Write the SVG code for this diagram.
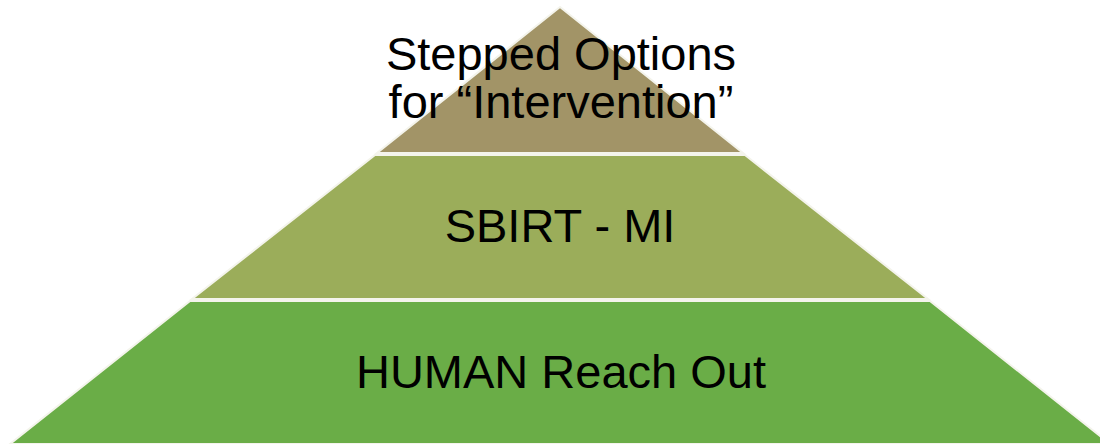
<svg xmlns="http://www.w3.org/2000/svg" width="1100" height="444" viewBox="0 0 1100 444">
  <style>
    .tier { stroke: #f4f4ec; stroke-width: 2; stroke-linejoin: miter; }
    .label { font-family: "Liberation Sans", Arial, sans-serif; font-size: 47px; fill: #000; text-anchor: middle; }
  </style>
  <rect width="1100" height="444" fill="#ffffff"/>
  <!-- pyramid tiers, apex at (560,7), sides slope 1.255 px per px -->
  <g id="tier-top">
    <polygon class="tier" points="560,7 743,153 377,153" fill="#a29467"/>
    <text class="label" x="561" y="70">Stepped Options</text>
    <text class="label" x="561" y="118">for “Intervention”</text>
  </g>
  <g id="tier-middle">
    <polygon class="tier" points="375,155 745,155 928,299 192,299" fill="#9bad5a"/>
    <text class="label" x="560" y="242">SBIRT - MI</text>
  </g>
  <g id="tier-bottom">
    <polygon class="tier" points="190,301 930,301 1110,444 10,444" fill="#6aad47"/>
    <text class="label" x="561" y="388">HUMAN Reach Out</text>
  </g>
</svg>
